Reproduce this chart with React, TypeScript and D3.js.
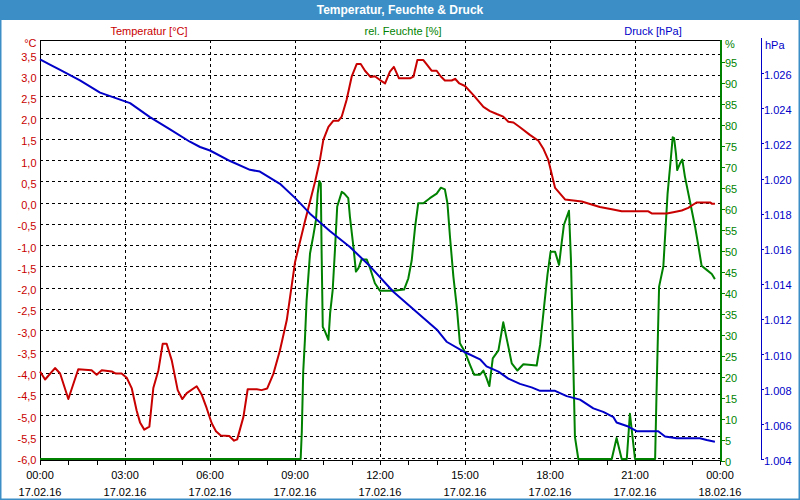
import React from 'react';
import * as d3 from 'd3';

// ---------- data (hours since 17.02.16 00:00) ----------
const tempHours = [0, 0.18, 0.53, 0.71, 1.0, 1.35, 1.82, 2.0, 2.18, 2.53, 2.68, 2.88, 3.06, 3.24, 3.41, 3.53, 3.68, 3.86, 4.0, 4.18, 4.33, 4.47, 4.65, 4.86, 5.02, 5.18, 5.53, 5.71, 5.88, 6.06, 6.21, 6.38, 6.68, 6.85, 6.96, 7.18, 7.33, 7.65, 7.82, 8.02, 8.24, 8.47, 8.71, 9.0, 9.35, 9.71, 9.88, 10.0, 10.18, 10.35, 10.53, 10.65, 10.82, 11.0, 11.18, 11.32, 11.47, 11.67, 11.82, 12.0, 12.18, 12.35, 12.49, 12.67, 13.06, 13.18, 13.32, 13.53, 13.67, 13.82, 14.0, 14.14, 14.29, 14.53, 14.65, 14.8, 15.0, 15.29, 15.65, 15.88, 16.12, 16.35, 16.53, 16.71, 16.94, 17.29, 17.59, 17.76, 17.94, 18.18, 18.53, 19.12, 19.76, 20.18, 20.53, 21.47, 21.59, 22.12, 22.35, 22.65, 22.88, 23.06, 23.18, 23.65, 23.71, 23.82];
const tempValues = [-3.95, -4.14, -3.87, -4.0, -4.6, -3.9, -3.92, -4.03, -3.92, -3.95, -4.0, -4.0, -4.1, -4.35, -4.87, -5.15, -5.32, -5.25, -4.34, -3.92, -3.3, -3.3, -3.69, -4.39, -4.6, -4.46, -4.3, -4.5, -4.81, -5.17, -5.36, -5.46, -5.47, -5.58, -5.55, -5.02, -4.37, -4.37, -4.39, -4.35, -4.0, -3.45, -2.74, -1.38, -0.42, 0.52, 1.03, 1.5, 1.81, 1.95, 1.95, 2.05, 2.44, 2.99, 3.29, 3.29, 3.13, 2.98, 3.0, 2.91, 2.83, 3.11, 3.22, 2.95, 2.95, 2.99, 3.38, 3.38, 3.26, 3.13, 3.13, 3.0, 2.9, 2.9, 2.94, 2.83, 2.77, 2.56, 2.28, 2.18, 2.11, 2.05, 1.93, 1.91, 1.8, 1.62, 1.48, 1.3, 1.03, 0.37, 0.1, 0.05, -0.08, -0.13, -0.18, -0.18, -0.23, -0.23, -0.2, -0.16, -0.1, -0.02, 0.03, 0.03, 0.0, 0.0];

const humHours = [0, 9.2, 9.24, 9.29, 9.35, 9.41, 9.53, 9.65, 9.74, 9.8, 9.86, 9.91, 9.94, 9.98, 10.06, 10.18, 10.24, 10.33, 10.41, 10.49, 10.65, 10.74, 10.88, 10.94, 11.06, 11.15, 11.24, 11.35, 11.53, 11.65, 11.82, 12.0, 12.47, 12.85, 13.0, 13.12, 13.24, 13.35, 13.53, 13.76, 14.0, 14.15, 14.29, 14.38, 14.47, 14.59, 14.71, 14.82, 15.0, 15.18, 15.32, 15.53, 15.65, 15.76, 15.86, 15.98, 16.18, 16.35, 16.53, 16.65, 16.85, 17.06, 17.53, 17.65, 17.79, 17.91, 18.02, 18.18, 18.32, 18.41, 18.49, 18.67, 18.74, 18.82, 18.88, 19.0, 20.18, 20.35, 20.53, 20.71, 20.82, 21.0, 21.71, 21.76, 21.85, 22.0, 22.15, 22.26, 22.33, 22.38, 22.45, 22.49, 22.59, 22.67, 22.76, 22.94, 23.12, 23.24, 23.35, 23.53, 23.71, 23.82];
const humValues = [0, 0, 6.9, 21.2, 28.8, 38.3, 49.4, 53.8, 57.4, 63.7, 66.7, 66.1, 49.4, 31.9, 30.8, 28.8, 35.2, 40.7, 50.2, 60.6, 64.1, 63.7, 62.6, 58.1, 51.1, 45.1, 45.9, 48.0, 48.0, 45.9, 42.3, 40.5, 40.5, 40.8, 43.5, 47.8, 55.8, 61.4, 61.4, 62.6, 63.7, 65.1, 64.7, 61.4, 53.4, 43.9, 36.7, 28.0, 25.9, 22.8, 20.5, 20.5, 21.5, 19.7, 17.8, 24.4, 26.3, 33.0, 27.2, 23.2, 21.5, 23.0, 22.7, 27.6, 36.7, 44.3, 49.8, 49.8, 46.7, 51.9, 56.2, 59.6, 47.8, 24.0, 5.7, 0, 0, 5.4, 0, 0, 11.2, 0, 0, 16.1, 41.5, 46.3, 63.7, 71.7, 77.1, 76.9, 72.9, 69.3, 70.9, 71.8, 67.8, 61.8, 55.8, 51.1, 46.5, 45.5, 44.5, 43.3];

const pressHours = [0, 0.35, 0.71, 1.41, 2.12, 2.65, 3.18, 3.88, 4.59, 5.29, 5.65, 6.0, 6.71, 7.41, 7.76, 8.47, 9.0, 9.53, 10.24, 10.94, 11.65, 12.47, 13.29, 14.0, 14.35, 15.0, 15.53, 15.76, 16.18, 16.53, 16.94, 17.35, 17.65, 18.18, 18.59, 19.06, 19.53, 19.88, 20.24, 20.35, 20.71, 21.06, 21.47, 21.82, 22.06, 22.47, 23.29, 23.53, 23.82];
const pressValues = [1.0268, 1.0265, 1.0262, 1.0256, 1.0249, 1.0246, 1.0243, 1.0235, 1.0228, 1.0221, 1.0218, 1.0216, 1.021, 1.0205, 1.0204, 1.0197, 1.0189, 1.018, 1.017, 1.0161, 1.015, 1.01355, 1.0124, 1.0114, 1.0107, 1.0101, 1.0097, 1.0093, 1.009, 1.0086, 1.0083, 1.0081, 1.0079, 1.0079, 1.0076, 1.0074, 1.0069, 1.0067, 1.0064, 1.0061, 1.0059, 1.0056, 1.0056, 1.0056, 1.0053, 1.0052, 1.0052, 1.0051, 1.005];

const tempTicks = [-6, -5.5, -5, -4.5, -4, -3.5, -3, -2.5, -2, -1.5, -1, -0.5, 0, 0.5, 1, 1.5, 2, 2.5, 3, 3.5];
const humTicks = [0, 5, 10, 15, 20, 25, 30, 35, 40, 45, 50, 55, 60, 65, 70, 75, 80, 85, 90, 95];
const pressTicks = [1.004, 1.006, 1.008, 1.01, 1.012, 1.014, 1.016, 1.018, 1.02, 1.022, 1.024, 1.026];
const timeTickHours = [0, 3, 6, 9, 12, 15, 18, 21, 24];
const timeTickLabels = ['00:00', '03:00', '06:00', '09:00', '12:00', '15:00', '18:00', '21:00', '00:00'];
const dateTickLabels = ['17.02.16', '17.02.16', '17.02.16', '17.02.16', '17.02.16', '17.02.16', '17.02.16', '17.02.16', '18.02.16'];
const minorHours = d3.range(0, 25, 1);

const RED = '#c80000';
const GREEN = '#008200';
const BLUE = '#0000c8';
const FRAME = '#3c8fc6';
const FONT = '"Liberation Sans", Arial, sans-serif';

export default function App() {
  const left = 40, right = 720, top = 40, bottom = 460;
  const x = d3.scaleLinear().domain([0, 24]).range([left, right]);
  const yT = d3.scaleLinear().domain([-6, 3.5]).range([458.5, 55]);
  const yH = d3.scaleLinear().domain([0, 95]).range([460.7, 62.3]);
  const yP = d3.scaleLinear().domain([1.004, 1.026]).range([459.3, 73.3]);

  const lineT = d3.line<number>().x((_, i) => x(tempHours[i])).y((d) => yT(d));
  const lineH = d3.line<number>().x((_, i) => x(humHours[i])).y((d) => Math.min(yH(d), 459));
  const lineP = d3.line<number>().x((_, i) => x(pressHours[i])).y((d) => yP(d));
  const fmtT = (v: number) => d3.format('.1f')(v).replace('.', ',').replace('−', '-');
  const fmtP = d3.format('.3f');

  const blueAxisX = 761;

  return (
    <div style={{ position: 'fixed', left: 0, top: 0, width: 800, height: 500 }}>
      <svg width={800} height={500} style={{ display: 'block', fontFamily: FONT }}>
        <rect x={0} y={0} width={800} height={500} fill="#ffffff" />
        <rect x={0.5} y={0.5} width={799} height={499} fill="none" stroke={FRAME} strokeWidth={2} />
        <rect x={0} y={0} width={800} height={20} fill={FRAME} />
        <text x={400} y={14} textAnchor="middle" fill="#ffffff" fontWeight="bold" fontSize={12}>
          Temperatur, Feuchte &amp; Druck
        </text>

        {/* series headers */}
        <text x={149} y={35} textAnchor="middle" fill={RED} fontSize={11}>Temperatur [°C]</text>
        <text x={403} y={35} textAnchor="middle" fill={GREEN} fontSize={11}>rel. Feuchte [%]</text>
        <text x={653} y={35} textAnchor="middle" fill={BLUE} fontSize={11}>Druck [hPa]</text>

        {/* grid */}
        <g stroke="#000" strokeWidth={1} strokeDasharray="3,3" shapeRendering="crispEdges">
          {tempTicks.map((t) => (
            <line key={'h' + t} x1={left} x2={right} y1={Math.round(yT(t)) - 0.5} y2={Math.round(yT(t)) - 0.5} />
          ))}
          {timeTickHours.slice(1, -1).map((h) => (
            <line key={'v' + h} x1={Math.round(x(h)) + 0.5} x2={Math.round(x(h)) + 0.5} y1={top} y2={bottom} />
          ))}
        </g>

        {/* frame of plot */}
        <g shapeRendering="crispEdges">
          <line x1={left} x2={right} y1={top + 0.5} y2={top + 0.5} stroke="#000" />
          <line x1={left + 0.5} x2={left + 0.5} y1={top} y2={bottom} stroke="#000" />
          <line x1={left} x2={right + 1} y1={bottom + 0.5} y2={bottom + 0.5} stroke="#000" />
          {minorHours.map((h) => (
            <line key={'m' + h} x1={Math.round(x(h)) + 0.5} x2={Math.round(x(h)) + 0.5} y1={bottom} y2={bottom + 5} stroke="#000" />
          ))}
        </g>

        {/* data lines */}
        <path d={lineH(humValues) || ''} fill="none" stroke={GREEN} strokeWidth={2} strokeLinejoin="round" />
        <path d={lineT(tempValues) || ''} fill="none" stroke={RED} strokeWidth={2} strokeLinejoin="round" />
        <path d={lineP(pressValues) || ''} fill="none" stroke={BLUE} strokeWidth={2} strokeLinejoin="round" />

        {/* left axis labels */}
        <text x={36.5} y={47} textAnchor="end" fill={RED} fontSize={11}>°C</text>
        {tempTicks.map((t) => (
          <text key={'tl' + t} x={36.5} y={yT(t) + 5.5} textAnchor="end" fill={RED} fontSize={11}>
            {fmtT(t)}
          </text>
        ))}

        {/* humidity axis */}
        <line x1={right + 1} x2={right + 1} y1={top} y2={bottom + 1} stroke={GREEN} strokeWidth={2} shapeRendering="crispEdges" />
        <text x={725} y={48} fill={GREEN} fontSize={11}>%</text>
        {humTicks.map((h) => (
          <g key={'hk' + h}>
            <line x1={right + 1} x2={right + 5} y1={Math.round(yH(h)) + 0.5} y2={Math.round(yH(h)) + 0.5} stroke={GREEN} shapeRendering="crispEdges" />
            <text x={725} y={yH(h) + 5} fill={GREEN} fontSize={11}>{h}</text>
          </g>
        ))}

        {/* pressure axis */}
        <line x1={blueAxisX + 0.5} x2={blueAxisX + 0.5} y1={top - 2} y2={bottom} stroke={BLUE} shapeRendering="crispEdges" />
        <text x={765} y={49} fill={BLUE} fontSize={11}>hPa</text>
        {pressTicks.map((p) => (
          <g key={'pk' + p}>
            <line x1={blueAxisX} x2={blueAxisX + 3} y1={Math.round(yP(p)) + 0.5} y2={Math.round(yP(p)) + 0.5} stroke={BLUE} shapeRendering="crispEdges" />
            <text x={764} y={yP(p) + 5.5} fill={BLUE} fontSize={11}>{fmtP(p)}</text>
          </g>
        ))}

        {/* time axis labels */}
        {timeTickHours.map((h, i) => (
          <g key={'tt' + i}>
            <text x={x(h)} y={479} textAnchor="middle" fill="#000" fontSize={11}>{timeTickLabels[i]}</text>
            <text x={x(h)} y={496} textAnchor="middle" fill="#000" fontSize={11}>{dateTickLabels[i]}</text>
          </g>
        ))}
      </svg>
    </div>
  );
}
